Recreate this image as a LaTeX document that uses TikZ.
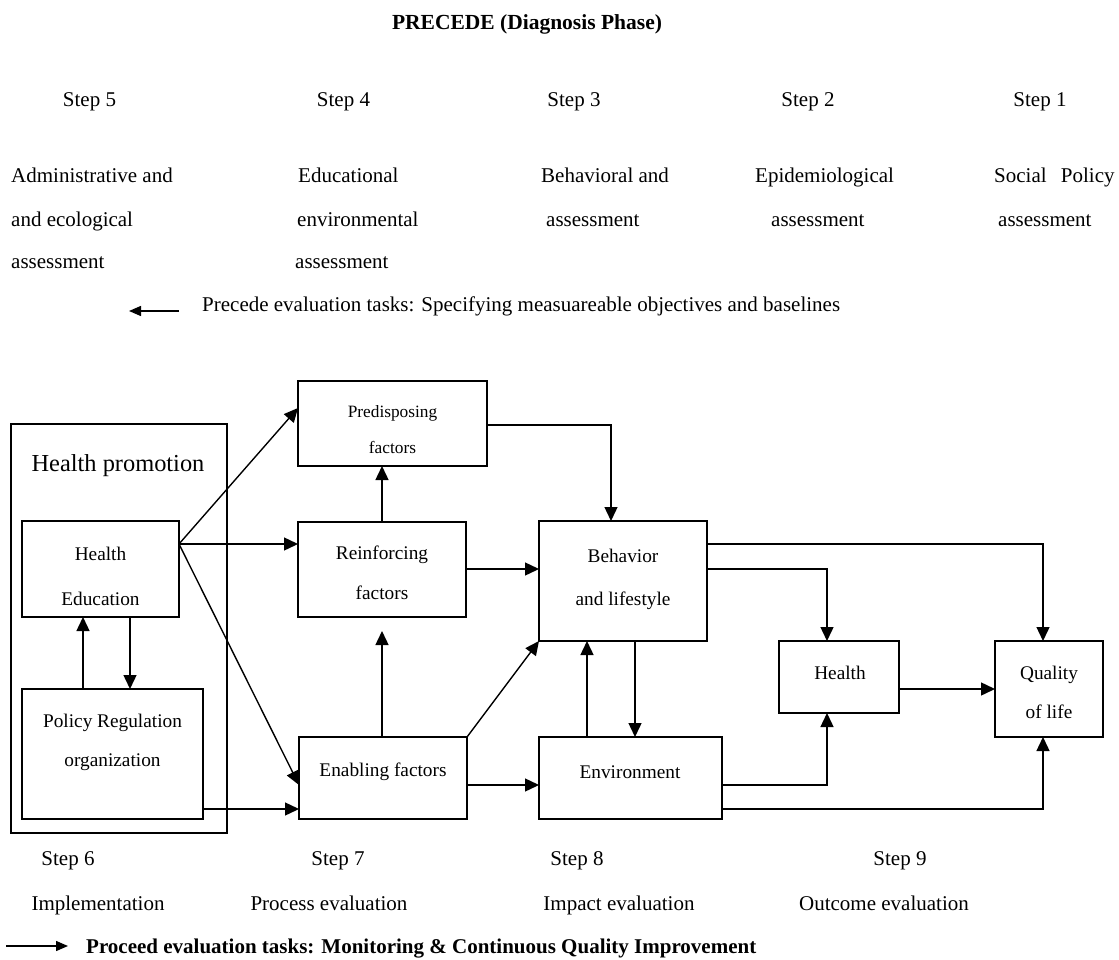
\documentclass[tikz,border=0pt]{standalone}
\usepackage{fontspec}
\setmainfont{Liberation Serif}
\usetikzlibrary{arrows.meta}
\begin{document}
\begin{tikzpicture}[x=1pt,y=-1pt,
  box/.style={draw, line width=1.4pt, inner sep=0pt, outer sep=0pt, anchor=north west},
  arr/.style={line width=1.4pt, -{Triangle[length=14pt,width=13pt]}},
  arrsm/.style={line width=1.4pt, -{Triangle[length=12pt,width=10pt]}},
  tl/.style={anchor=base west, inner sep=0pt, font=\fontsize{21}{25}\selectfont},
  tc/.style={anchor=base, inner sep=0pt, font=\fontsize{21}{25}\selectfont},
  bt/.style={anchor=base, inner sep=0pt, font=\fontsize{19.3}{23}\selectfont}]
\useasboundingbox (0,0) rectangle (1119,960);

% ---- top: PRECEDE ----
\node[tc, font=\fontsize{21.5}{25}\bfseries] (title) at (527,30) {PRECEDE (Diagnosis Phase)};
\node[tc] (s5) at (89.5,107) {Step 5};
\node[tc] (s4) at (343.5,107) {Step 4};
\node[tc] (s3) at (574,107) {Step 3};
\node[tc] (s2) at (808,107) {Step 2};
\node[tc] (s1) at (1040,107) {Step 1};

\node[tl] (c5a) at (11,183) {Administrative and};
\node[tl] (c5b) at (11,226) {and ecological};
\node[tl] (c5c) at (11,268) {assessment};
\node[tl] (c4a) at (298,183) {Educational};
\node[tl] (c4b) at (297,226) {environmental};
\node[tl] (c4c) at (295,268) {assessment};
\node[tl] (c3a) at (541,183) {Behavioral and};
\node[tl] (c3b) at (546,226) {assessment};
\node[tl] (c2a) at (755,183) {Epidemiological};
\node[tl] (c2b) at (771,226) {assessment};
\node[tl] (c1a) at (994,183) {Social\hspace{9pt} Policy};
\node[tl] (c1b) at (998,226) {assessment};

\coordinate (pa1) at (179,311);
\coordinate (pa2) at (129,311);
\draw[arrsm] (pa1) -- (pa2);
\node[tl] (prec) at (202,311) {Precede evaluation tasks: Specifying measuareable objectives and baselines};

% ---- boxes ----
\node[box, minimum width=216pt, minimum height=409pt] (outer) at (11,424) {};
\node[anchor=base, inner sep=0pt, font=\fontsize{24.4}{28}\selectfont] (hpt) at (118,471) {Health promotion};

\node[box, minimum width=157pt, minimum height=96pt] (he) at (22,521) {};
\node[bt] (he1) at (100.5,560) {Health};
\node[bt] (he2) at (100.5,605) {Education};

\node[box, minimum width=181pt, minimum height=130pt] (pol) at (22,689) {};
\node[bt] (pol1) at (112.5,727) {Policy Regulation};
\node[bt] (pol2) at (112.5,766) {organization};

\node[box, minimum width=189pt, minimum height=85pt] (pre) at (298,381) {};
\node[bt, font=\fontsize{17.3}{21}\selectfont] (pre1) at (392.5,417) {Predisposing};
\node[bt, font=\fontsize{17.3}{21}\selectfont] (pre2) at (392.5,453) {factors};

\node[box, minimum width=168pt, minimum height=95pt] (rf) at (298,522) {};
\node[bt] (rf1) at (382,559.5) {Reinforcing};
\node[bt] (rf2) at (382,599.5) {factors};

\node[box, minimum width=168pt, minimum height=82pt] (en) at (299,737) {};
\node[bt] (en1) at (383,776.5) {Enabling factors};

\node[box, minimum width=168pt, minimum height=120pt] (beh) at (539,521) {};
\node[bt] (beh1) at (623,562.5) {Behavior};
\node[bt] (beh2) at (623,605.5) {and lifestyle};

\node[box, minimum width=183pt, minimum height=82pt] (env) at (539,737) {};
\node[bt] (env1) at (630,778.5) {Environment};

\node[box, minimum width=120pt, minimum height=72pt] (hl) at (779,641) {};
\node[bt] (hl1) at (840,679.5) {Health};

\node[box, minimum width=108pt, minimum height=96pt] (ql) at (995,641) {};
\node[bt] (ql1) at (1049,679.5) {Quality};
\node[bt] (ql2) at (1049,718.5) {of life};

% ---- connectors ----
\coordinate (hs) at (he.east |- 0,544);
\draw[arr] (hs) -- (pre.west |- 0,408);
\draw[arr] (hs) -- (rf.west |- 0,544);
\draw[arr] (hs) -- (en.west |- 0,785);
\draw[arr] (rf.north) -- (rf.north |- pre.south);
\draw[arr] (en.north -| rf.south) -- ([yshift=-14pt]rf.south);
\draw[arr] (pre.east |- 0,425) -| (beh.north -| 611,0);
\draw[arr] (rf.east |- 0,569) -- (beh.west |- 0,569);
\draw[arr] (en.north east) -- (beh.south west);
\draw[arr] (en.east |- 0,785) -- (env.west |- 0,785);
\draw[arr] (pol.east |- 0,809) -- (en.west |- 0,809);
\draw[arr] (pol.north -| 83,0) -- (he.south -| 83,0);
\draw[arr] (he.south -| 130,0) -- (pol.north -| 130,0);
\draw[arr] (env.north -| 587,0) -- (beh.south -| 587,0);
\draw[arr] (beh.south -| 635,0) -- (env.north -| 635,0);
\draw[arr] (beh.east |- 0,544) -| (ql.north -| 1043,0);
\draw[arr] (beh.east |- 0,569) -| (hl.north -| 827,0);
\draw[arr] (hl.east |- 0,689) -- (ql.west |- 0,689);
\draw[arr] (env.east |- 0,785) -| (hl.south -| 827,0);
\draw[arr] (env.east |- 0,809) -| (ql.south -| 1043,0);

% ---- bottom: PROCEED ----
\node[tc] (s6) at (68,865) {Step 6};
\node[tc] (s7) at (338,865) {Step 7};
\node[tc] (s8) at (577,865) {Step 8};
\node[tc] (s9) at (900,865) {Step 9};
\node[tc] (b6) at (98,910) {Implementation};
\node[tc] (b7) at (329,910) {Process evaluation};
\node[tc] (b8) at (619,910) {Impact evaluation};
\node[tc] (b9) at (884,910) {Outcome evaluation};

\coordinate (pb1) at (6,946);
\coordinate (pb2) at (68,946);
\draw[arrsm] (pb1) -- (pb2);
\node[tl, font=\fontsize{21}{25}\bfseries] (proc) at (86,953) {Proceed evaluation tasks: Monitoring \& Continuous Quality Improvement};
\end{tikzpicture}
\end{document}
